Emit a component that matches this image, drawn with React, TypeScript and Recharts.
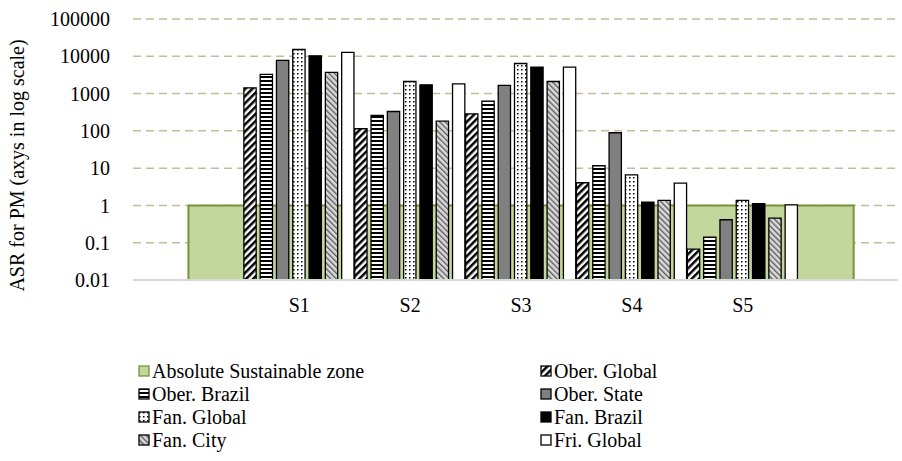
import React from "react";
import { ComposedChart, Bar, Area, XAxis, YAxis, CartesianGrid } from "recharts";

const categories = ["S1", "S2", "S3", "S4", "S5"];
const oberGlobal = [1430, 114, 287, 4.06, 0.067];
const oberBrazil = [3260, 259, 627, 11.6, 0.141];
const oberState = [7730, 331, 1650, 89, 0.413];
const fanGlobal = [15200, 2110, 6400, 6.6, 1.36];
const fanBrazil = [10300, 1720, 5130, 1.23, 1.11];
const fanCity = [3690, 182, 2110, 1.36, 0.457];
const friGlobal = [12700, 1830, 5130, 3.96, 1.04];

// sustainable zone: ASR = 1, from the blank slot before S1 to the one after S5
const zoneX = [0, 0, 6, 6];
const zoneY = [0.01, 1, 1, 0.01];

const yTicks = [0.01, 0.1, 1, 10, 100, 1000, 10000, 100000];

const rows = categories.map((name, i) => ({
  x: i + 1,
  name,
  og: oberGlobal[i],
  ob: oberBrazil[i],
  os: oberState[i],
  fg: fanGlobal[i],
  fb: fanBrazil[i],
  fc: fanCity[i],
  fr: friGlobal[i],
}));
const zone = zoneX.map((x, i) => ({ x, v: zoneY[i] }));

const series = [
  { key: "og", name: "Ober. Global", fill: "url(#pOG)" },
  { key: "ob", name: "Ober. Brazil", fill: "url(#pOB)" },
  { key: "os", name: "Ober. State", fill: "#808080" },
  { key: "fg", name: "Fan. Global", fill: "url(#pFG)" },
  { key: "fb", name: "Fan. Brazil", fill: "#000000" },
  { key: "fc", name: "Fan. City", fill: "url(#pFC)" },
  { key: "fr", name: "Fri. Global", fill: "#ffffff" },
];

const legendItems = [
  { name: "Absolute Sustainable zone", fill: "#c3d69b", stroke: "#77933c" },
  ...series.map((s) => ({ name: s.name, fill: s.fill, stroke: "#000" })),
];

const font = '"Liberation Serif", "Times New Roman", Times';

export default function App() {
  return (
    <div style={{ position: "absolute", left: 0, top: 0, width: 902, height: 461, background: "#fff", fontFamily: font }}>
      <ComposedChart width={902} height={340} data={rows} margin={{ top: 19, right: 4, bottom: 30, left: 0 }}>
        <defs>
          <pattern id="pOG" width="5" height="5" patternUnits="userSpaceOnUse" patternTransform="rotate(45)">
            <rect width="5" height="5" fill="#fff" />
            <rect width="2.5" height="5" fill="#000" />
          </pattern>
          <pattern id="pOB" width="4" height="4" patternUnits="userSpaceOnUse">
            <rect width="4" height="4" fill="#fff" />
            <rect width="4" height="2" fill="#000" />
          </pattern>
          <pattern id="pFG" width="4" height="4" patternUnits="userSpaceOnUse">
            <rect width="4" height="4" fill="#fff" />
            <rect x="1" y="1" width="1.5" height="1.5" fill="#000" />
          </pattern>
          <pattern id="pFC" width="4" height="4" patternUnits="userSpaceOnUse" patternTransform="rotate(-45)">
            <rect width="4" height="4" fill="#d9d9d9" />
            <rect width="1.3" height="4" fill="#595959" />
          </pattern>
        </defs>
        <CartesianGrid vertical={false} stroke="#c4bd97" strokeWidth={1.5} strokeDasharray="8 5" />
        <XAxis
          dataKey="x"
          type="number"
          domain={[-0.5, 6.4]}
          allowDataOverflow
          ticks={[1, 2, 3, 4, 5]}
          tickFormatter={(v) => categories[v - 1]}
          axisLine={{ stroke: "#d9d9d9", strokeWidth: 2 }}
          tickLine={false}
          height={30}
          tick={{ fill: "#000", fontSize: 20, fontFamily: font }}
          tickMargin={12}
        />
        <YAxis
          scale="log"
          domain={[0.01, 100000]}
          allowDataOverflow
          ticks={yTicks}
          tickFormatter={(v) => String(v)}
          width={133}
          axisLine={false}
          tickLine={false}
          tickSize={0}
          tickMargin={23}
          tick={{ fill: "#000", fontSize: 20, fontFamily: font }}
          label={{
            value: "ASR for PM (axys in log scale)",
            angle: -90,
            position: "insideLeft",
            dx: 12,
            dy: 16,
            style: { textAnchor: "middle", fill: "#000", fontSize: 20, fontFamily: font },
          }}
        />
        <Area
          data={zone}
          dataKey="v"
          type="linear"
          baseValue="dataMin"
          fill="#c3d69b"
          fillOpacity={1}
          stroke="#77933c"
          strokeWidth={2}
          isAnimationActive={false}
        />
        {series.map((s) => (
          <Bar
            key={s.key}
            dataKey={s.key}
            name={s.name}
            fill={s.fill}
            stroke="#000"
            strokeWidth={1.3}
            barSize={12.3}
            isAnimationActive={false}
          />
        ))}
      </ComposedChart>
      <div
        style={{
          position: "absolute",
          left: 138,
          top: 360,
          width: 620,
          display: "grid",
          gridTemplateColumns: "402px 220px",
          fontSize: 20,
          lineHeight: "23px",
          color: "#000",
        }}
      >
        {legendItems.map((it) => (
          <div key={it.name} style={{ display: "flex", alignItems: "center", whiteSpace: "nowrap" }}>
            <svg width={13} height={13} style={{ marginRight: 1 }}>
              <rect x={1} y={1} width={10} height={10} fill={it.fill} stroke={it.stroke} strokeWidth={1.3} />
            </svg>
            {it.name}
          </div>
        ))}
      </div>
    </div>
  );
}
